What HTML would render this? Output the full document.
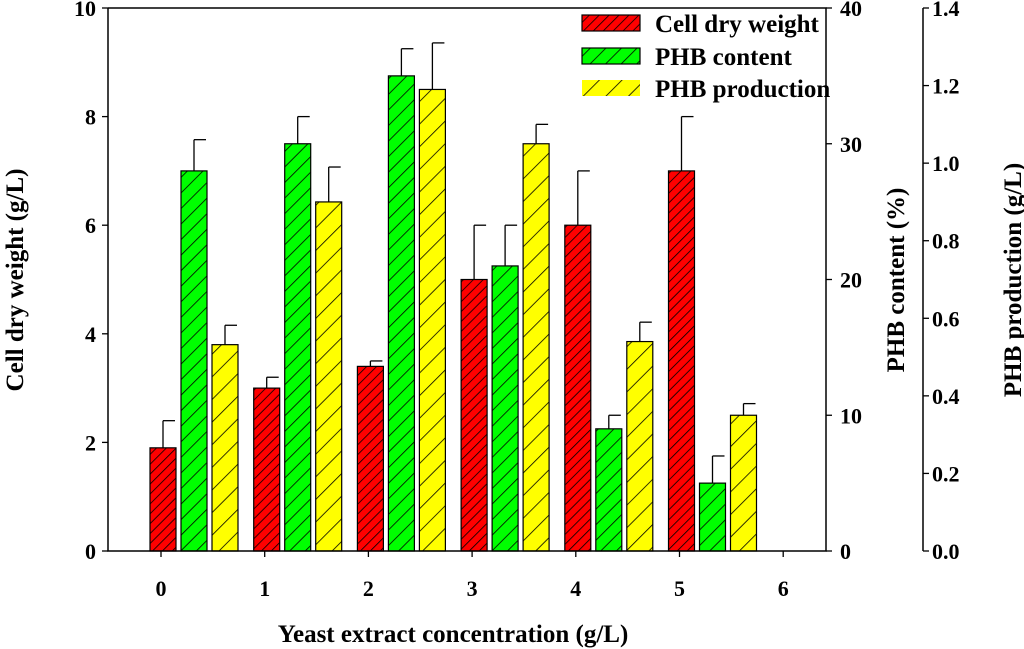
<!DOCTYPE html>
<html><head><meta charset="utf-8"><style>
body{margin:0;background:#fff}
svg{display:block;font-family:"Liberation Serif",serif;font-weight:bold}
</style></head><body>
<svg id="c" width="1024" height="649">
<defs>
<pattern id="hr" patternUnits="userSpaceOnUse" width="7" height="7" patternTransform="rotate(45)"><rect width="7" height="7" fill="#ff0000"/><line x1="0" y1="0" x2="0" y2="7" stroke="#000" stroke-width="1.6"/></pattern>
<pattern id="hg" patternUnits="userSpaceOnUse" width="11" height="11" patternTransform="rotate(45)"><rect width="11" height="11" fill="#00ff00"/><line x1="0" y1="0" x2="0" y2="11" stroke="#000" stroke-width="1.6"/></pattern>
<pattern id="hy" patternUnits="userSpaceOnUse" width="16" height="16" patternTransform="rotate(45)"><rect width="16" height="16" fill="#ffff00"/><line x1="0" y1="0" x2="0" y2="16" stroke="#000" stroke-width="1.6"/></pattern>
</defs>
<g id="marks"></g>
<g id="axes"></g>
</svg>
<script>
const categories=[0,1,2,3,4,5];
const xTicks=[0,1,2,3,4,5,6];
const cdw=[1.9,3.0,3.4,5.0,6.0,7.0];
const cdwErr=[0.5,0.2,0.1,1.0,1.0,1.0];
const phbContent=[28,30,35,21,9,5];
const phbContentErr=[2.3,2,2,3,1,2];
const phbProd=[0.532,0.9,1.19,1.05,0.54,0.35];
const phbProdErr=[0.05,0.09,0.12,0.05,0.05,0.03];
const leftTicks=[0,2,4,6,8,10];
const midTicks=[0,10,20,30,40];
const rightTicks=[0,0.2,0.4,0.6,0.8,1.0,1.2,1.4];
const NS="http://www.w3.org/2000/svg";
const L=108,R=826,T=8,B=551,R2=923;
const x=v=>161+v*103.7;
const yL=v=>B-(B-T)*v/10, yM=v=>B-(B-T)*v/40, yR=v=>B-(B-T)*v/1.4;
function mk(tag,a,parent){const e=document.createElementNS(NS,tag);for(const k in a)e.setAttribute(k,a[k]);document.getElementById(parent).appendChild(e);return e;}
const series=[[cdw,cdwErr,yL,'url(#hr)',0],[phbContent,phbContentErr,yM,'url(#hg)',31],[phbProd,phbProdErr,yR,'url(#hy)',62]];
series.forEach((s,si)=>{categories.forEach((c,i)=>{
 const cx=x(c)+s[4]-11, y=s[2](s[0][i]), ye=s[2](s[0][i]+s[1][i]);
 const l=mk('line',{x1:cx+13,x2:cx+13,y1:y,y2:ye,stroke:'#000','stroke-width':1.3},'marks');
 
 
 const cap=mk('line',{x1:cx+13,x2:cx+25,y1:ye,y2:ye,stroke:'#000','stroke-width':1.3},'marks');
 
 
 const r=mk('rect',{x:cx,y:y,width:26,height:B-y,fill:s[3],stroke:'#000','stroke-width':1.2},'marks');
 
 
});});
const A='axes';
mk('path',{d:`M${L},${T}V${B}H${R}V${T}H${L}`,fill:'none',stroke:'#000','stroke-width':1.5},A);
mk('line',{x1:R2,x2:R2,y1:T,y2:B,stroke:'#000','stroke-width':1.5},A);
function txt(s,a){const t=mk('text',a,A);t.textContent=s;return t;}
leftTicks.forEach(v=>{mk('line',{x1:L-6,x2:L,y1:yL(v),y2:yL(v),stroke:'#000','stroke-width':1.3},A);
 const t=txt(v,{x:L-12,y:yL(v)+8,'text-anchor':'end','font-size':22});
 
 });
midTicks.forEach(v=>{mk('line',{x1:R,x2:R+6,y1:yM(v),y2:yM(v),stroke:'#000','stroke-width':1.3},A);
 const t=txt(v,{x:R+14,y:yM(v)+8,'font-size':22});
 
 });
rightTicks.forEach(v=>{mk('line',{x1:R2,x2:R2+6,y1:yR(v),y2:yR(v),stroke:'#000','stroke-width':1.3},A);
 const t=txt(v.toFixed(1),{x:R2+9,y:yR(v)+8,'font-size':22});
 
 });
xTicks.forEach(v=>{mk('line',{x1:x(v),x2:x(v),y1:B,y2:B+6,stroke:'#000','stroke-width':1.3},A);
 const t=txt(v,{x:x(v),y:596,'text-anchor':'middle','font-size':22});
 
 });
let t=txt('Yeast extract concentration (g/L)',{x:453,y:642,'text-anchor':'middle','font-size':25});

t=txt('Cell dry weight (g/L)',{x:0,y:0,'text-anchor':'middle','font-size':25,transform:'translate(23,280) rotate(-90)'});

t=txt('PHB content (%)',{x:0,y:0,'text-anchor':'middle','font-size':25,transform:'translate(904,280) rotate(-90)'});

t=txt('PHB production (g/L)',{x:0,y:0,'text-anchor':'middle','font-size':25,transform:'translate(1021,280) rotate(-90)'});

[['Cell dry weight','url(#hr)',15],['PHB content','url(#hg)',48],['PHB production','url(#hy)',80]].forEach((e,i)=>{
 const r=mk('rect',{x:582,y:e[2],width:58,height:16,fill:e[1],stroke:i<2?'#000':'none','stroke-width':1.2},A);
 
 const tt=txt(e[0],{x:655,y:e[2]+17,'font-size':25});
 
});
</script>
</body></html>
